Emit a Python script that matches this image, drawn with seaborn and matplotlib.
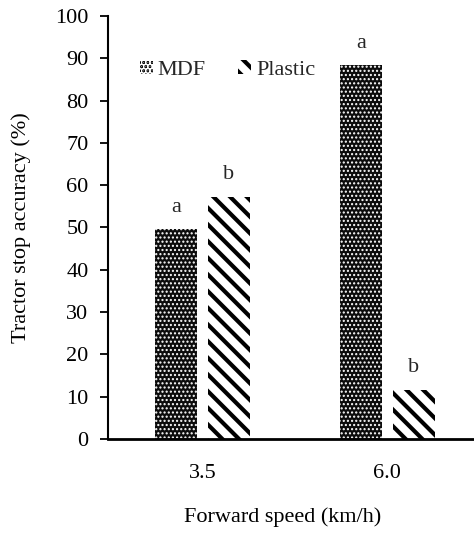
import matplotlib
matplotlib.use("Agg")
import matplotlib.pyplot as plt
import seaborn as sns
import pandas as pd
from matplotlib.patches import Patch

speeds = ["3.5", "6.0"]
materials = ["MDF", "Plastic"]
mdf_values = [49.6, 88.4]
plastic_values = [57.3, 11.7]
mdf_letters = ["a", "a"]
plastic_letters = ["b", "b"]
y_ticks = [0, 10, 20, 30, 40, 50, 60, 70, 80, 90, 100]

df = pd.DataFrame({
    "Speed": speeds * 2,
    "Material": ["MDF"] * len(speeds) + ["Plastic"] * len(speeds),
    "Value": mdf_values + plastic_values,
})

sns.set_theme(style="white")
plt.rcParams["font.family"] = ["Liberation Serif", "DejaVu Serif"]
plt.rcParams["hatch.linewidth"] = 3.0

FS = 16
fig = plt.figure(figsize=(4.74, 5.33), dpi=100)
ax = fig.add_axes([108 / 474, 94 / 533, (474 - 108) / 474, 423 / 533])

sns.barplot(data=df, x="Speed", y="Value", hue="Material", order=speeds,
            hue_order=materials, width=0.573, gap=0.2, ax=ax, legend=False,
            errorbar=None)

styles = {
    "MDF": dict(facecolor="#0c0c0c", edgecolor="white", hatch="...."),
    "Plastic": dict(facecolor="white", edgecolor="black", hatch="\\\\"),
}
letters = {"MDF": mdf_letters, "Plastic": plastic_letters}
for cont, mat in zip(ax.containers, materials):
    for i, bar in enumerate(cont):
        st = styles[mat]
        bar.set_facecolor(st["facecolor"])
        bar.set_edgecolor(st["edgecolor"])
        bar.set_hatch(st["hatch"])
        bar.set_linewidth(0)
        try:
            bar.set_hatch_linewidth(3.0 if mat == "Plastic" else 1.0)
        except Exception:
            pass
        h = bar.get_height()
        ax.text(bar.get_x() + bar.get_width() / 2, h + 2.9, letters[mat][i],
                ha="center", va="bottom", fontsize=FS)

ax.set_xlim(-0.51, -0.51 + 366 / 185)
ax.set_ylim(0, 100)
ax.set_yticks(y_ticks)
ax.tick_params(axis="y", direction="out", length=6, width=1.3, pad=8,
               labelsize=FS, left=True, color="black", labelcolor="black")
ax.tick_params(axis="x", length=0, pad=18, labelsize=FS, labelcolor="black")
for s in ["top", "right"]:
    ax.spines[s].set_visible(False)
ax.spines["left"].set_color("black")
ax.spines["left"].set_linewidth(1.5)
ax.spines["bottom"].set_color("black")
ax.spines["bottom"].set_linewidth(2)

ax.set_xlabel("Forward speed (km/h)", fontsize=FS, color="black")
ax.xaxis.set_label_coords((283 - 108) / 366, -(507 - 439) / 423)
ax.set_ylabel("Tractor stop accuracy (%)", fontsize=FS, color="black")
ax.yaxis.set_label_coords(-(108 - 31) / 366, 0.5)

handles = [Patch(facecolor="#0c0c0c", edgecolor="white", hatch="....", linewidth=0),
           Patch(facecolor="white", edgecolor="black", hatch="\\\\", linewidth=0)]
try:
    handles[0].set_hatch_linewidth(1.0)
    handles[1].set_hatch_linewidth(3.0)
except Exception:
    pass
fig.legend(handles, materials, loc="center left",
           bbox_to_anchor=(140 / 474, 1 - 70 / 533), ncol=2, frameon=False,
           fontsize=FS, handlelength=0.6, handleheight=0.6, handletextpad=0.2,
           columnspacing=1.45, borderpad=0, borderaxespad=0)

fig.savefig("out.png", dpi=100)
